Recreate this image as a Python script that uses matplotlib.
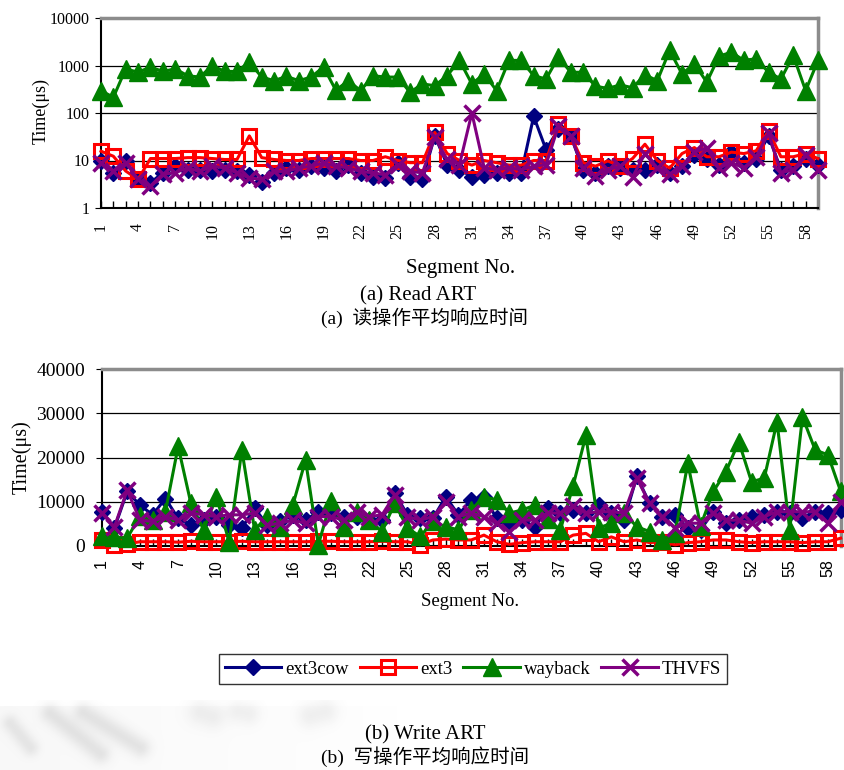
import numpy as np
import matplotlib
matplotlib.use('Agg')
import matplotlib.pyplot as plt
from matplotlib.ticker import FixedLocator, FuncFormatter

plt.rcParams['font.family'] = ['Liberation Serif', 'Noto Sans CJK SC']

# Segment numbers
segments = np.arange(1, 60)
x_ticks = list(range(1, 60, 3))

# Read ART (us), log scale
ext3cow_read = [10, 5.5, 9.7, 4.0, 3.4, 5.5, 7.6, 6.4, 6.4, 5.9,
                6.4, 5.9, 5.0, 3.6, 5.5, 7.0, 6.4, 7.6, 7.0, 5.9,
                8.2, 5.5, 4.6, 4.3, 8.9, 4.6, 4.0, 33, 8.2, 6.4,
                4.6, 5.0, 5.5, 5.5, 5.5, 85, 17, 45, 33, 6.4,
                5.5, 7.6, 7.0, 6.4, 6.4, 8.2, 5.5, 7.6, 13, 11,
                8, 15, 9, 11, 33, 6.4, 7.6, 11, 8]
ext3_read = [15.7, 12.3, 6, 4, 11, 11, 11, 11.5, 11.5, 11,
             10.5, 10.5, 33, 11.5, 10.5, 10, 10, 11, 11, 11,
             11, 10, 10, 12, 10, 9, 9, 39, 14, 10,
             8, 10, 9, 8, 8, 10, 10, 58, 33, 9,
             7.6, 9.8, 7.6, 11, 22, 10, 6.9, 14, 18.7, 12,
             12, 15, 14, 16, 42, 12, 12, 14, 11]
wayback_read = [295, 214, 850, 720, 930, 750, 850, 610, 570, 1000,
                750, 750, 1180, 570, 480, 590, 480, 570, 930, 300,
                480, 295, 610, 570, 570, 272, 410, 375, 610, 1280,
                410, 665, 295, 1280, 1280, 610, 520, 1500, 720, 720,
                365, 330, 390, 340, 635, 480, 2080, 665, 1090, 445,
                1580, 1900, 1280, 1390, 720, 520, 1630, 295, 1280]
thvfs_read = [8.9, 5.9, 8.9, 4.0, 2.85, 5.2, 5.5, 7.0, 5.9, 7.6,
              7.0, 5.5, 4.3, 4.0, 5.9, 5.9, 7.0, 7.6, 8.9, 7.6,
              7.0, 5.9, 5.5, 5.0, 8.2, 5.9, 5.5, 31, 10.5, 8.2,
              100, 7.0, 6.4, 7.0, 6.4, 7.6, 8.2, 53, 33, 6.9,
              4.8, 6.4, 7.6, 4.5, 14, 7.0, 5.2, 7.6, 15, 18.7,
              7.0, 9, 7, 12, 38, 5.5, 6.4, 13, 6.4]

# Write ART (us), linear scale
ext3cow_write = [7700, 4000, 12300, 9200, 7000, 10700, 6200, 4700, 5800, 6600,
                 4700, 4000, 8500, 4700, 5500, 7000, 5800, 7700, 7400, 6600,
                 6600, 5800, 5800, 11900, 7000, 6200, 6200, 11100, 7000, 10400,
                 11100, 6200, 5100, 5800, 4300, 8500, 7400, 8100, 7400, 9200,
                 7400, 5800, 15700, 9600, 6600, 7000, 4000, 3600, 7700, 5100,
                 5800, 6600, 7000, 7700, 7400, 6200, 7700, 7400, 8100]
ext3_write = [1300, 200, 400, 900, 900, 900, 800, 1000, 900, 900,
              900, 1000, 900, 900, 900, 900, 900, 1000, 1000, 900,
              900, 900, 1000, 900, 900, 200, 1300, 1500, 1300, 1300,
              2400, 900, 300, 700, 900, 900, 900, 2400, 2800, 900,
              2000, 900, 1300, 700, 900, 200, 700, 900, 1300, 1300,
              900, 700, 900, 900, 900, 700, 900, 900, 1700]
wayback_write = [2100, 2000, 1700, 6750, 5800, 7700, 22500, 9600, 3600, 11100,
                 900, 21700, 3600, 6600, 4300, 9200, 19400, 200, 10200, 4300,
                 7700, 5800, 3200, 9600, 4000, 2100, 5500, 4300, 3600, 8100,
                 11100, 10400, 7400, 8100, 9200, 6000, 3600, 13600, 25000, 4000,
                 5100, 7400, 4300, 3200, 1300, 2800, 18700, 4500, 12300, 16800,
                 23600, 14500, 15300, 28100, 3600, 29200, 21700, 20600, 12300]
thvfs_write = [7400, 4300, 12600, 5800, 5500, 6600, 5800, 7400, 7000, 6600,
               7000, 7000, 7400, 4700, 5100, 5800, 5100, 6600, 6600, 5800,
               7700, 6600, 7000, 11500, 6600, 5800, 6600, 10000, 6600, 7400,
               6600, 5100, 3200, 5800, 5800, 7400, 7400, 8900, 7400, 7700,
               7700, 7400, 15300, 9600, 6600, 4000, 5100, 5100, 7400, 5800,
               5800, 5100, 6600, 7700, 7700, 7700, 7700, 5100, 10000]

labels = ['ext3cow', 'ext3', 'wayback', 'THVFS']

# Marker styles per file system
STYLES = {
    'ext3cow': dict(color='#000080', marker='D', markersize=8),
    'ext3': dict(color='#FF0000', marker='s', markersize=10,
                 markerfacecolor='none', markeredgewidth=2.2),
    'wayback': dict(color='#008000', marker='^', markersize=13),
    'THVFS': dict(color='#800080', marker='x', markersize=11,
                  markeredgewidth=2.5),
}

W, H = 845, 770


def fx(px):
    return px / W


def fy(py):
    return 1 - py / H


def style_axes(ax, xfont, xsize, ysize, xpad):
    """Bordure type tableur : haut/droite gris, bas/gauche noir"""
    for side in ('top', 'right'):
        ax.spines[side].set_color('#8c8c8c')
        ax.spines[side].set_linewidth(2.5)
    for side in ('left', 'bottom'):
        ax.spines[side].set_color('black')
        ax.spines[side].set_linewidth(1.5)
    ax.yaxis.grid(True, color='black', linewidth=0.9)
    ax.set_axisbelow(True)
    ax.set_xlim(1, 59)
    ax.xaxis.set_major_locator(FixedLocator(x_ticks))
    ax.xaxis.set_minor_locator(FixedLocator(list(segments)))
    ax.set_xticklabels([str(t) for t in x_ticks], family=xfont)
    ax.tick_params(axis='x', which='both', direction='in', length=5,
                   width=1, labelrotation=90, labelsize=xsize, pad=xpad)
    ax.tick_params(axis='y', which='both', direction='out', length=4,
                   labelsize=ysize, pad=4)


def tracer(ax, series):
    handles = []
    for name, values in zip(labels, series):
        h, = ax.plot(segments, values, linewidth=2.2, clip_on=False,
                     zorder=3, label=name, **STYLES[name])
        handles.append(h)
    return handles


def filigrane(fig):
    """Traces grises estompees en bas a gauche"""
    h, w = 70, 430
    yy, xx = np.mgrid[0:h, 0:w].astype(float)
    dark = np.where(yy > 5, 0.05 * np.clip(1 - xx / w, 0, 1), 0)
    strokes = [((50, 13), (100, 53), 7, 0.16), ((83, 12), (140, 47), 7, 0.16),
               ((10, 23), (30, 47), 6, 0.14), ((200, 12), (212, 16), 9, 0.10),
               ((238, 11), (248, 13), 8, 0.09), ((310, 15), (325, 11), 9, 0.10)]
    for (x0, y0), (x1, y1), s, a in strokes:
        vx, vy = x1 - x0, y1 - y0
        t = np.clip(((xx - x0) * vx + (yy - y0) * vy) / (vx * vx + vy * vy),
                    0, 1)
        d2 = (xx - x0 - t * vx) ** 2 + (yy - y0 - t * vy) ** 2
        dark = dark + a * np.exp(-d2 / (2 * s * s))
    dark = np.clip(dark, 0, 0.22)
    img = np.zeros((h, w, 4))
    img[..., :3] = 0.45
    img[..., 3] = dark
    ax = fig.add_axes([0, fy(770), fx(w), h / H])
    ax.imshow(img, aspect='auto', interpolation='bilinear')
    ax.set_axis_off()


fig = plt.figure(figsize=(W / 100, H / 100), dpi=100)
filigrane(fig)

# (a) Read ART
ax1 = fig.add_axes([fx(101), fy(208), fx(717), 190 / H])
tracer(ax1, [ext3cow_read, ext3_read, wayback_read, thvfs_read])
ax1.set_yscale('log')
ax1.set_ylim(1, 10000)
ax1.yaxis.set_major_locator(FixedLocator([1, 10, 100, 1000, 10000]))
ax1.yaxis.set_minor_locator(FixedLocator([]))
ax1.yaxis.set_major_formatter(FuncFormatter(lambda v, p: f'{v:.0f}'))
style_axes(ax1, 'Liberation Serif', 11.5, 11.5, 11)
fig.text(fx(41), fy(111), 'Time(μs)', rotation=90, ha='center',
         va='center', fontsize=13)
fig.text(fx(461), fy(269), 'Segment No.', ha='center', va='center',
         fontsize=15)

fig.text(fx(418), fy(296), '(a) Read ART', ha='center', va='center',
         fontsize=15)
fig.text(fx(425), fy(318), '(a)  读操作平均响应时间', ha='center',
         va='center', fontsize=14)

# (b) Write ART
ax2 = fig.add_axes([fx(101.7), fy(545.7), fx(739), 176.4 / H])
handles = tracer(ax2, [ext3cow_write, ext3_write, wayback_write, thvfs_write])
ax2.set_ylim(0, 40000)
ax2.yaxis.set_major_locator(FixedLocator([0, 10000, 20000, 30000, 40000]))
style_axes(ax2, 'Liberation Sans', 11.5, 14, 10)
ax2.tick_params(axis='y', pad=8)
fig.text(fx(22), fy(457), 'Time(μs)', rotation=90, ha='center',
         va='center', fontsize=14.5)
fig.text(fx(470), fy(601), 'Segment No.', ha='center', va='center',
         fontsize=13.5)

leg = fig.legend(handles=handles, labels=labels, loc='center',
                 bbox_to_anchor=(fx(473), fy(669)), ncol=4, fontsize=13.5,
                 handlelength=3.0, handletextpad=0.2, columnspacing=0.6,
                 frameon=True, fancybox=False, borderpad=0.35)
leg.get_frame().set_edgecolor('black')
leg.get_frame().set_linewidth(1.0)

fig.text(fx(425), fy(735), '(b) Write ART', ha='center', va='center',
         fontsize=15)
fig.text(fx(425), fy(757), '(b)  写操作平均响应时间', ha='center',
         va='center', fontsize=14)

fig.savefig('out.png', dpi=100)
plt.close('all')
